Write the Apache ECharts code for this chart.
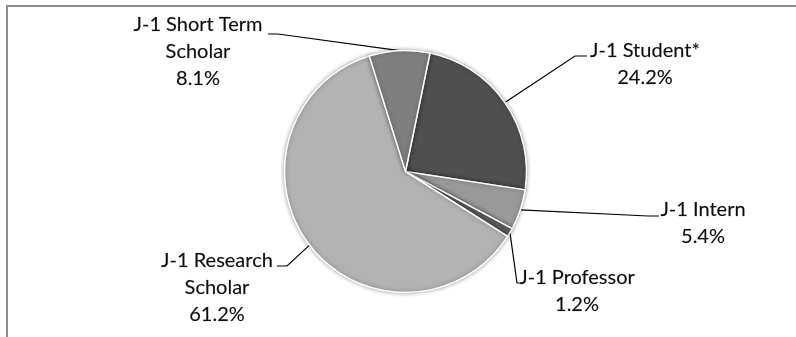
<!DOCTYPE html>
<html>
<head>
<meta charset="utf-8">
<script src="https://cdn.jsdelivr.net/npm/echarts@6/dist/echarts.min.js"></script>
<style>
html,body{margin:0;padding:0;background:#fff;}
#chart{width:796px;height:337px;}
</style>
</head>
<body>
<div id="chart"></div>
<script>
var categories = ['J-1 Student*', 'J-1 Intern', 'J-1 Professor', 'J-1 Research\nScholar', 'J-1 Short Term\nScholar'];
var shares = [24.2, 5.4, 1.2, 61.2, 8.1];
var colors = ['#4f4f4f', '#999999', '#5e5e5e', '#b2b2b2', '#7f7f7f'];

// label placement (style): center of text block and guide line bend/end
var labelSpots = [
  {x: 645, y: 64,  mid: [575, 56],  end: [587, 56]},
  {x: 703, y: 223.5, mid: [648, 216], end: [659, 216]},
  {x: 577, y: 291, mid: [517, 283], end: [519, 283]},
  {x: 217, y: 287.5, mid: [287, 266], end: [277, 266]},
  {x: 198, y: 52,  mid: [278, 34],  end: [268, 34]}
];

var chart = echarts.init(document.getElementById('chart'), null, {renderer: 'canvas'});
var data = categories.map(function (c, i) {
  return {name: c, value: shares[i], itemStyle: {color: colors[i]}};
});

chart.setOption({
  animation: false,
  backgroundColor: '#ffffff',
  graphic: [
    {type: 'polyline', shape: {points: [[7, 340], [7, 6], [800, 6]]},
     style: {stroke: '#8c8c8c', lineWidth: 2, fill: null}, silent: true}
  ],
  series: [{
    type: 'pie',
    center: [405.5, 171.5],
    radius: 121,
    startAngle: 78.3,
    clockwise: true,
    avoidLabelOverlap: false,
    data: data,
    itemStyle: {
      borderColor: '#ffffff',
      borderWidth: 1.5,
      shadowBlur: 4,
      shadowColor: 'rgba(0,0,0,0.35)'
    },
    label: {
      show: true,
      formatter: function (p) { return p.name + '\n' + p.value.toFixed(1) + '%'; },
      fontFamily: 'Lato',
      fontSize: 20,
      lineHeight: 27,
      color: '#0d0d0d',
      textBorderColor: 'rgba(13,13,13,0.35)',
      textBorderWidth: 0.4,
      align: 'center'
    },
    labelLine: {
      show: true,
      length: 10,
      length2: 10,
      lineStyle: {color: '#000000', width: 1.2}
    },
    labelLayout: function (params) {
      var s = labelSpots[params.dataIndex];
      var p0 = params.labelLinePoints ? params.labelLinePoints[0] : s.mid;
      return {
        x: s.x,
        y: s.y,
        align: 'center',
        verticalAlign: 'middle',
        labelLinePoints: [p0, s.mid, s.end]
      };
    },
    emphasis: {disabled: true}
  }]
});
</script>
</body>
</html>
